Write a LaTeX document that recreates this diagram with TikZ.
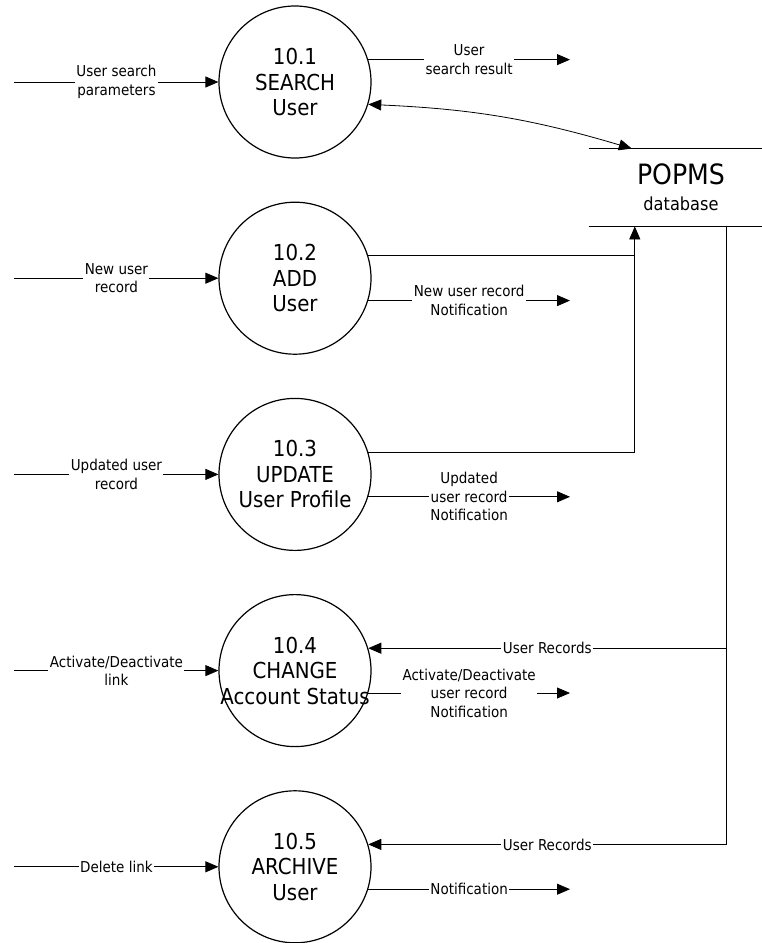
\documentclass[tikz,border=0pt]{standalone}
\usepackage{fontspec}
\setmainfont{DejaVu Sans Condensed}
\usetikzlibrary{arrows.meta,calc,positioning}

\begin{document}
\begin{tikzpicture}[x=1pt,y=-1pt,>={Triangle[length=13pt,width=11pt]},line width=0.8pt,node distance=43pt,
		process/.style={circle,draw,line width=1.2pt,minimum size=152pt,inner sep=0pt,
			label={[align=center,font=\fontsize{22}{25.5}\selectfont]center:#1}},
		flow/.style={fill=white,inner sep=1.5pt,align=center,font=\fontsize{15}{18.5}\selectfont},
		store/.style={minimum width=184pt,minimum height=77pt,inner sep=0pt,align=center}]
	\useasboundingbox (0,0) rectangle (762,943);
	% processes
	\node[process={10.1\\SEARCH\\User}] at (295,82) (p_1) {};
	\node[process={10.2\\ADD\\User}] [below=of p_1] (p_2) {};
	\node[process={10.3\\UPDATE\\User Profile}] [below=of p_2] (p_3) {};
	\node[process={10.4\\CHANGE\\Account Status}] [below=of p_3] (p_4) {};
	\node[process={10.5\\ARCHIVE\\User}] [below=of p_4] (p_5) {};
	% data store
	\node[store,font=\fontsize{18}{26}\selectfont] at (681,187.5) (db) {{\fontsize{28}{26}\selectfont POPMS}\\database};
	\draw (db.north west) -- (db.north east);
	\draw (db.south west) -- (db.south east);
	\coordinate (db_in) at ($(db.north west)!0.234!(db.north east)$);
	\coordinate (db_up) at ($(db.south west)!0.25!(db.south east)$);
	\coordinate (db_out) at ($(db.south west)!0.745!(db.south east)$);
	% left ends and right ends of the flows
	\foreach \i in {1,...,5}
		\coordinate[left=204pt of p_\i.west] (src_\i);
	\coordinate (sink) at (570,0);
	\path[->]
		(src_1) edge node[flow] {User search\\parameters} (p_1)
		(src_2) edge node[flow] {New user\\record} (p_2)
		(src_3) edge node[flow] {Updated user\\record} (p_3)
		(src_4) edge node[flow] {Activate/Deactivate\\link} (p_4)
		(src_5) edge node[flow] {Delete link} (p_5)
		(p_1.17) edge node[flow] {User\\search result} (p_1.17 -| sink)
		(p_2.-17) edge node[flow] {New user record\\Notification} (p_2.-17 -| sink)
		(p_3.-17) edge node[flow] {Updated\\user record\\Notification} (p_3.-17 -| sink)
		(p_4.-17) edge node[flow] {Activate/Deactivate\\user record\\Notification} (p_4.-17 -| sink)
		(p_5.-17) edge node[flow] {Notification} (p_5.-17 -| sink);
	% flows to and from the database
	\draw[<->] (p_1.-17) to[bend left=7] (db_in);
	\draw (p_2.17) -- (p_2.17 -| db_up);
	\draw[->] (p_3.17) -| (db_up);
	\draw[->] (p_4.17 -| db_out) -- node[flow] {User Records} (p_4.17);
	\draw[->] (db_out) |- node[flow,pos=0.75] {User Records} (p_5.17);
\end{tikzpicture}
\end{document}
